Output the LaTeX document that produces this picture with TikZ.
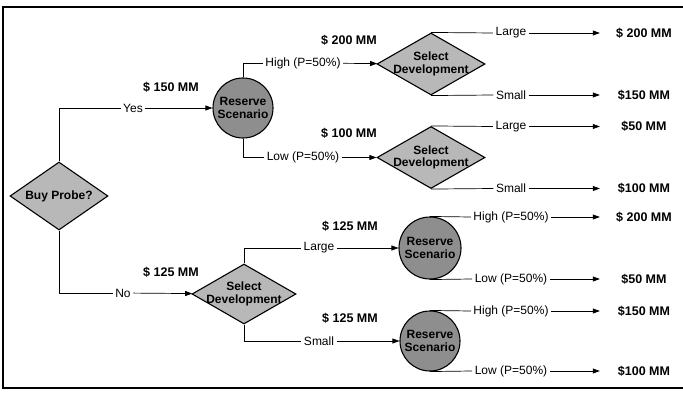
\documentclass[tikz,border=0pt]{standalone}
\usepackage{fontspec}
\setmainfont{Liberation Sans}
\usetikzlibrary{arrows.meta, shapes.geometric}
\definecolor{decgray}{HTML}{B8B8B8}
\definecolor{chgray}{HTML}{8E8E8E}

\begin{document}
\begin{tikzpicture}[x=1pt, y=-1pt,
  font=\fontsize{12}{13}\selectfont,
  dec/.style={draw, line width=1.1pt, diamond, fill=decgray, inner sep=0pt},
  dtext/.style={font=\fontsize{12}{12.5}\selectfont\bfseries, align=center,
    inner sep=0pt},
  chance/.style={draw, line width=1.1pt, circle, fill=chgray, minimum size=60pt,
    inner sep=0pt, font=\fontsize{12}{12.5}\selectfont\bfseries, align=center},
  lbl/.style={inner sep=2.5pt},
  money/.style={font=\fontsize{12.5}{13}\selectfont\bfseries},
  payoff/.style={money, minimum width=88pt, inner sep=0pt},
  line/.style={line width=0.7pt},
  arr/.style={-{Triangle[length=7pt, width=5pt]}, line width=0.7pt}
]
  \useasboundingbox (0,0) rectangle (683,396);
  \draw[line width=1.4pt] (683,7) -- (3,7) -- (3,388) -- (683,388);

  % Decision and chance nodes
  \node[dec, minimum width=98pt, minimum height=68pt,
    label={[dtext]center:Buy Probe?}] (probe) at (59,196) {};
  \node[chance] (res1) at (243,108) {Reserve\\Scenario};
  \node[dec, minimum width=108pt, minimum height=62pt,
    label={[dtext]center:Select\\Development}] (dev1) at (431,64) {};
  \node[dec, minimum width=108pt, minimum height=62pt,
    label={[dtext]center:Select\\Development}] (dev2) at (431,157.5) {};
  \node[dec, minimum width=104pt, minimum height=60pt,
    label={[dtext]center:Select\\Development}] (dev3) at (244,294) {};
  \node[chance, minimum size=62pt] (res3) at (430,248) {Reserve\\Scenario};
  \node[chance] (res4) at (430,341) {Reserve\\Scenario};

  % Branch labels
  \node[lbl] (yes) at (133,108) {Yes};
  \node[lbl] (no) at (123,293) {No};
  \node[lbl] (high1) at (303,63) {High (P=50\%)};
  \node[lbl] (low1) at (303,157.5) {Low (P=50\%)};
  \node[lbl] (large1) at (511,33) {Large};
  \node[lbl] (small1) at (511,95) {Small};
  \node[lbl] (large2) at (511,126.5) {Large};
  \node[lbl] (small2) at (511,188.5) {Small};
  \node[lbl] (large3) at (319,248) {Large};
  \node[lbl] (small3) at (319,341) {Small};
  \node[lbl] (high3) at (511,217) {High (P=50\%)};
  \node[lbl] (low3) at (511,279) {Low (P=50\%)};
  \node[lbl] (high4) at (511,311) {High (P=50\%)};
  \node[lbl] (low4) at (511,371) {Low (P=50\%)};

  % Costs on branches
  \node[money] (c150) at (171,87) {\$ 150 MM};
  \node[money] (c125a) at (171,272) {\$ 125 MM};
  \node[money] (c200) at (349,40) {\$ 200 MM};
  \node[money] (c100) at (349,133) {\$ 100 MM};
  \node[money] (c125b) at (350,226) {\$ 125 MM};
  \node[money] (c125c) at (350,318) {\$ 125 MM};

  % Payoffs
  \node[payoff] (p1) at (644,33) {\$ 200 MM};
  \node[payoff] (p2) at (644,95) {\$150 MM};
  \node[payoff] (p3) at (644,126.5) {\$50 MM};
  \node[payoff] (p4) at (644,188.5) {\$100 MM};
  \node[payoff] (p5) at (644,217) {\$ 200 MM};
  \node[payoff] (p6) at (644,279) {\$50 MM};
  \node[payoff] (p7) at (644,311) {\$150 MM};
  \node[payoff] (p8) at (644,371) {\$100 MM};

  % Connectors
  \draw[line] (probe.north) |- (yes.west);
  \draw[arr] (yes) -- (res1);
  \draw[line] (probe.south) |- (no.west);
  \draw[arr] (no) -- (dev3);

  \draw[line] (res1.north) |- (high1.west);
  \draw[arr] (high1) -- (dev1);
  \draw[line] (res1.south) |- (low1.west);
  \draw[arr] (low1) -- (dev2);

  \draw[line] (dev1.north) -- (large1.west);
  \draw[arr] (large1) -- (p1);
  \draw[line] (dev1.south) -- (small1.west);
  \draw[arr] (small1) -- (p2);
  \draw[line] (dev2.north) -- (large2.west);
  \draw[arr] (large2) -- (p3);
  \draw[line] (dev2.south) -- (small2.west);
  \draw[arr] (small2) -- (p4);

  \draw[line] (dev3.north) |- (large3.west);
  \draw[arr] (large3) -- (res3);
  \draw[line] (dev3.south) |- (small3.west);
  \draw[arr] (small3) -- (res4);

  \draw[line] (res3.north) -- (high3.west);
  \draw[arr] (high3) -- (p5);
  \draw[line] (res3.south) -- (low3.west);
  \draw[arr] (low3) -- (p6);
  \draw[line] (res4.north) -- (high4.west);
  \draw[arr] (high4) -- (p7);
  \draw[line] (res4.south) -- (low4.west);
  \draw[arr] (low4) -- (p8);
\end{tikzpicture}
\end{document}
